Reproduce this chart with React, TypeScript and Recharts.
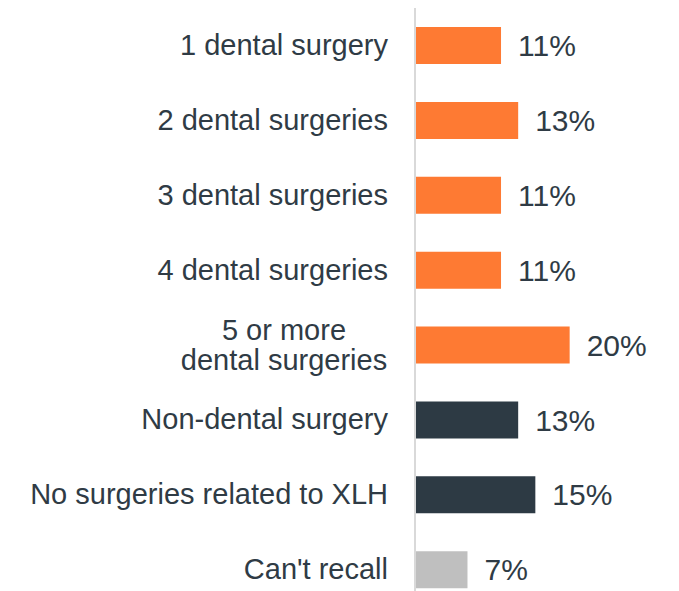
import { BarChart, Bar, XAxis, YAxis, Cell, LabelList } from 'recharts'

const categories = [
  '1 dental surgery',
  '2 dental surgeries',
  '3 dental surgeries',
  '4 dental surgeries',
  '5 or more\ndental surgeries',
  'Non-dental surgery',
  'No surgeries related to XLH',
  "Can't recall",
]

// percentages (labels show them rounded)
const shares = [10.9, 13.1, 10.9, 10.9, 19.7, 13.1, 15.3, 6.6]

const groups = ['dental', 'dental', 'dental', 'dental', 'dental', 'other', 'other', 'unknown']

const groupColours: Record<string, string> = {
  dental: '#FE7A33',
  other: '#2D3A44',
  unknown: '#BFBFBF',
}

const TEXT = '#2F3B45'
const FONT = '"Liberation Sans", Arial, sans-serif'

const data = categories.map((name, i) => ({ name, value: shares[i], group: groups[i] }))

// category labels, right aligned; two-line ones centred on each other
function CategoryTick(props: any) {
  const { x, y, payload } = props
  const lines = String(payload.value).split('\n')
  if (lines.length === 1) {
    return (
      <text x={x} y={y} dy="0.33em" textAnchor="end" fill={TEXT} fontSize={29} fontFamily={FONT}>
        {lines[0]}
      </text>
    )
  }
  const lineH = 30
  const top = y - ((lines.length - 1) * lineH) / 2
  return (
    <text textAnchor="middle" fill={TEXT} fontSize={29} fontFamily={FONT}>
      {lines.map((l, i) => (
        <tspan key={i} x={x - 104} y={top + i * lineH} dy="0.33em">
          {l}
        </tspan>
      ))}
    </text>
  )
}

export default function App() {
  return (
    <BarChart
      width={671}
      height={599}
      data={data}
      layout="vertical"
      margin={{ top: 0, right: 68, bottom: 0, left: 0 }}
      barCategoryGap={0}
    >
      <XAxis type="number" domain={[0, 25]} hide />
      <YAxis
        type="category"
        dataKey="name"
        width={408}
        tickLine={false}
        tickSize={0}
        tickMargin={28}
        axisLine={{ stroke: '#D9D9D9', strokeWidth: 2, transform: 'translate(-1,0)' }}
        tick={<CategoryTick />}
        interval={0}
      />
      <Bar dataKey="value" barSize={37} isAnimationActive={false}>
        {data.map((d, i) => (
          <Cell key={i} fill={groupColours[d.group]} />
        ))}
        <LabelList
          dataKey="value"
          position="right"
          offset={17}
          formatter={(v: any) => `${Math.round(Number(v))}%`}
          fill={TEXT}
          fontSize={30}
          fontFamily={FONT}
        />
      </Bar>
    </BarChart>
  )
}
